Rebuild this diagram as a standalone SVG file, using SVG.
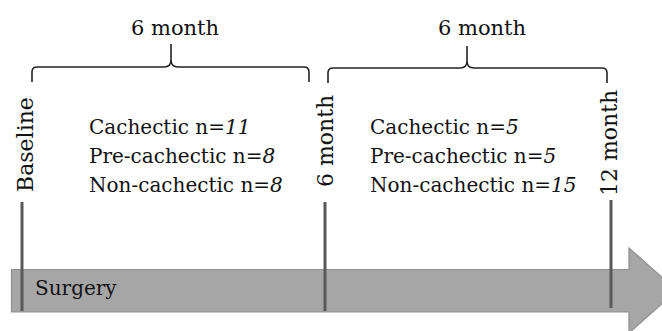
<svg xmlns="http://www.w3.org/2000/svg" width="662" height="331" viewBox="0 0 662 331">
  <style>
    text { font-family: "DejaVu Serif", "Liberation Serif", serif; fill: #111; }
    .lbl { font-size: 20px; }
    .period { font-size: 21px; text-anchor: middle; }
    .tick-label { font-size: 22px; }
    .brace { fill: none; stroke: #222; stroke-width: 1.6; stroke-linejoin: round; }
    .tick { stroke: #595959; stroke-width: 3; }
    .arrow { fill: #a6a6a6; stroke: #8f8f8f; stroke-width: 1.2; }
    .num { font-style: italic; }
  </style>

  <!-- timeline arrow -->
  <g id="timeline">
    <path class="arrow" d="M11.5,269.5 H629 V248 L677,290.5 L629,333 V312 H11.5 Z"/>
    <text class="lbl" x="35" y="295">Surgery</text>
  </g>

  <!-- time points -->
  <g id="baseline">
    <line class="tick" x1="22" y1="202" x2="22" y2="311"/>
    <text class="tick-label" transform="translate(33,192) rotate(-90)">Baseline</text>
  </g>
  <g id="month6">
    <line class="tick" x1="325" y1="202" x2="325" y2="311"/>
    <text class="tick-label" transform="translate(333,187) rotate(-90)">6 month</text>
  </g>
  <g id="month12">
    <line class="tick" x1="611" y1="200" x2="611" y2="308"/>
    <text class="tick-label" transform="translate(617,196) rotate(-90)">12 month</text>
  </g>

  <!-- period braces -->
  <g id="connectors">
    <path class="brace" d="M32,82 V72 Q32,67 37,67 H164 Q171,67 171,60 V44 M171,60 Q171,67 178,67 H304 Q309,67 309,72 V82"/>
    <path class="brace" d="M328,83 V73 Q328,68 333,68 H460 Q467,68 467,61 V46 M467,61 Q467,68 474,68 H602 Q607,68 607,73 V83"/>
  </g>

  <g id="period1">
    <text class="period" x="175" y="35">6 month</text>
    <text class="lbl" x="89" y="134">Cachectic n=<tspan class="num">11</tspan></text>
    <text class="lbl" x="89" y="163">Pre-cachectic n=<tspan class="num">8</tspan></text>
    <text class="lbl" x="89" y="192">Non-cachectic n=<tspan class="num">8</tspan></text>
  </g>
  <g id="period2">
    <text class="period" x="482" y="35">6 month</text>
    <text class="lbl" x="370" y="134">Cachectic n=<tspan class="num">5</tspan></text>
    <text class="lbl" x="370" y="163">Pre-cachectic n=<tspan class="num">5</tspan></text>
    <text class="lbl" x="370" y="192">Non-cachectic n=<tspan class="num">15</tspan></text>
  </g>
</svg>
